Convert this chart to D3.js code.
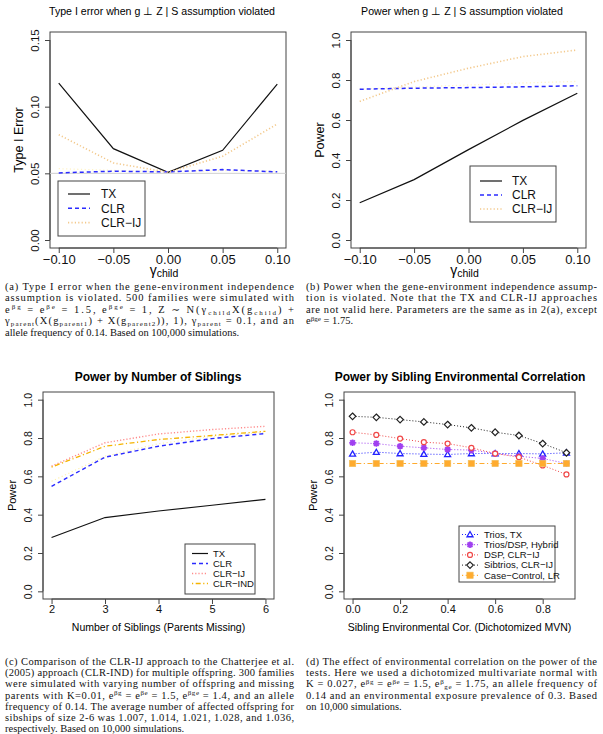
<!DOCTYPE html>
<html><head><meta charset="utf-8">
<script src="https://cdn.jsdelivr.net/npm/d3@7"></script>
<style>
body{margin:0;background:#fff;}
svg text{font-family:"Liberation Sans",Arial,sans-serif;}
.cap{font-family:"Liberation Serif","DejaVu Serif",serif;font-size:10.5px;fill:#111;}
</style></head><body>
<svg id="c" width="603" height="734"></svg>
<script>
// ---------- DATA ----------
const gammaChild = [-0.10, -0.05, 0.00, 0.05, 0.10];
const typeI_TX    = [0.1176, 0.0685, 0.0508, 0.0673, 0.1169];
const typeI_CLR   = [0.0503, 0.0516, 0.0511, 0.0528, 0.0511];
const typeI_CLRIJ = [0.0790, 0.0578, 0.0508, 0.0628, 0.0870];
const typeI_faint = [0.0535, 0.0522, 0.0512, 0.0520, 0.0517];
const typeI_ticks = [0.00, 0.05, 0.10, 0.15];

const power_TX    = [0.186, 0.302, 0.452, 0.598, 0.734];
const power_CLR   = [0.754, 0.759, 0.762, 0.766, 0.771];
const power_CLRIJ = [0.693, 0.792, 0.859, 0.917, 0.950];
const power_faint = [0.755, 0.765, 0.775, 0.785, 0.793];
const gammaTicks = [-0.10, -0.05, 0.00, 0.05, 0.10];
const powerTicks = [0.0, 0.2, 0.4, 0.6, 0.8, 1.0];

const nSiblings = [2, 3, 4, 5, 6];
const sib_TX     = [0.281, 0.385, 0.419, 0.449, 0.480];
const sib_CLR    = [0.548, 0.700, 0.757, 0.797, 0.823];
const sib_CLRIJ  = [0.653, 0.775, 0.821, 0.844, 0.861];
const sib_CLRIND = [0.648, 0.757, 0.792, 0.813, 0.835];
const sib_faint  = [0.574, 0.705, 0.770, 0.808, 0.830];

const envCor = [0.0, 0.1, 0.2, 0.3, 0.4, 0.5, 0.6, 0.7, 0.8, 0.9];
const env_TriosTX   = [0.717, 0.726, 0.719, 0.716, 0.714, 0.719, 0.719, 0.719, 0.717, 0.723];
const env_Hybrid    = [0.775, 0.771, 0.757, 0.749, 0.740, 0.737, 0.719, 0.705, 0.693, 0.667];
const env_DSP       = [0.830, 0.816, 0.797, 0.778, 0.771, 0.749, 0.719, 0.700, 0.657, 0.610];
const env_Sibtrios  = [0.913, 0.908, 0.896, 0.884, 0.870, 0.853, 0.830, 0.813, 0.771, 0.723];
const env_CC        = [0.667, 0.667, 0.667, 0.667, 0.667, 0.667, 0.667, 0.667, 0.667, 0.667];
const envTicks = [0.0, 0.2, 0.4, 0.6, 0.8];

// ---------- DRAWING ----------
const svg = d3.select("#c");
const AX = "#444";

function rScale(lo, hi, r0, r1){ const d=(hi-lo)*0.04; return d3.scaleLinear().domain([lo-d, hi+d]).range([r0,r1]); }

function panel(o){
  const g = svg.append("g");
  const x = rScale(o.xlim[0], o.xlim[1], o.box.l, o.box.r);
  const y = rScale(o.ylim[0], o.ylim[1], o.box.b, o.box.t);
  g.append("text").attr("x", o.titleX).attr("y", o.titleY).attr("text-anchor","middle")
    .style("font-size", o.titleSize+"px").style("font-weight", o.titleBold?"bold":"normal").text(o.title);
  const xa = d3.axisBottom(x).tickValues(o.xticks).tickSize(5).tickPadding(2).tickFormat(o.xfmt);
  const gx = g.append("g").attr("transform",`translate(0,${o.box.b})`).call(xa);
  gx.select(".domain").attr("stroke",AX).attr("d",`M${x(o.xticks[0])},0H${x(o.xticks[o.xticks.length-1])}`);
  gx.selectAll(".tick line").attr("stroke",AX);
  gx.selectAll(".tick text").style("font-size",o.tickSize+"px").attr("fill","#111").attr("dy", o.xdy);
  const ya = d3.axisLeft(y).tickValues(o.yticks).tickSize(5).tickPadding(0).tickFormat(o.yfmt);
  const gy = g.append("g").attr("transform",`translate(${o.box.l},0)`).call(ya);
  gy.select(".domain").attr("stroke",AX).attr("d",`M0,${y(o.yticks[0])}V${y(o.yticks[o.yticks.length-1])}`);
  gy.selectAll(".tick line").attr("stroke",AX);
  gy.selectAll(".tick text").style("font-size",o.ytickSize+"px").attr("fill","#111")
    .attr("x",null).attr("dy",null).attr("text-anchor","middle")
    .attr("transform",`translate(${-o.ylabOff},0) rotate(-90)`);
  g.append("rect").attr("x",o.box.l).attr("y",o.box.t).attr("width",o.box.r-o.box.l).attr("height",o.box.b-o.box.t)
    .attr("fill","none").attr("stroke",AX).attr("stroke-width",1);
  g.append("text").attr("transform",`translate(${o.box.l-o.ytitleOff},${(o.box.t+o.box.b)/2}) rotate(-90)`)
    .attr("text-anchor","middle").style("font-size",o.ytitleSize+"px").text(o.ytitle);
  if(o.xtitle === "gamma"){
    const t = g.append("text").attr("x",(o.box.l+o.box.r)/2-4).attr("y",o.xtitleY).attr("text-anchor","middle").style("font-size","14px");
    t.append("tspan").text("γ");
    t.append("tspan").attr("dy",2).style("font-size","10.5px").text("child");
  } else {
    g.append("text").attr("x",(o.box.l+o.box.r)/2).attr("y",o.xtitleY).attr("text-anchor","middle")
      .style("font-size",o.xtitleSize+"px").text(o.xtitle);
  }
  if(o.hline!==undefined){
    g.append("line").attr("x1",o.box.l).attr("x2",o.box.r).attr("y1",y(o.hline)).attr("y2",y(o.hline))
      .attr("stroke","#cfcfcf").attr("stroke-width",1);
  }
  const line = d3.line().x(d=>x(d[0])).y(d=>y(d[1]));
  o.series.forEach(s=>{
    const pts = o.xs.map((v,i)=>[v, s.values[i]]);
    g.append("path").datum(pts).attr("d",line).attr("fill","none").attr("stroke",s.color)
      .attr("stroke-width",s.width||1.3).attr("stroke-dasharray",s.dash||null).attr("stroke-linecap","butt");
    if(s.symbol){
      pts.forEach(p=> drawSym(g, s.symbol, x(p[0]), y(p[1]), s.color));
    }
  });
  const L = o.legend;
  g.append("rect").attr("x",L.l).attr("y",L.t).attr("width",L.r-L.l).attr("height",L.b-L.t)
    .attr("fill","#fff").attr("stroke",AX).attr("stroke-width",1);
  o.series.filter(s=>s.label).forEach((s,i)=>{
    const yy = L.y0 + i*L.dy;
    g.append("line").attr("x1",L.x1).attr("x2",L.x2).attr("y1",yy).attr("y2",yy)
      .attr("stroke",s.color).attr("stroke-width",s.width||1.3).attr("stroke-dasharray",s.dash||null);
    if(s.symbol) drawSym(g, s.symbol, (L.x1+L.x2)/2, yy, s.color);
    g.append("text").attr("x",L.tx).attr("y",yy).attr("dy","0.35em").style("font-size",L.size+"px").attr("fill","#111").text(s.label);
  });
}

function drawSym(g, sym, cx, cy, col){
  if(sym==="tri"){
    g.append("path").attr("d",d3.symbol(d3.symbolTriangle2,26)()).attr("transform",`translate(${cx},${cy+0.5})`)
      .attr("fill","#fff").attr("stroke",col).attr("stroke-width",1.3);
  } else if(sym==="star"){
    const r=3.3;
    const p = `M${-r},0H${r}M0,${-r}V${r}M${-r*0.72},${-r*0.72}L${r*0.72},${r*0.72}M${-r*0.72},${r*0.72}L${r*0.72},${-r*0.72}`;
    g.append("path").attr("d",p).attr("transform",`translate(${cx},${cy})`).attr("stroke",col).attr("stroke-width",1.8).attr("fill","none");
  } else if(sym==="circle"){
    g.append("circle").attr("cx",cx).attr("cy",cy).attr("r",2.5).attr("fill","#fff").attr("stroke",col).attr("stroke-width",1.2);
  } else if(sym==="diamond"){
    g.append("path").attr("d","M0,-3.3L3.3,0L0,3.3L-3.3,0Z").attr("transform",`translate(${cx},${cy})`)
      .attr("fill","#fff").attr("stroke",col).attr("stroke-width",1.2);
  } else if(sym==="square"){
    g.append("rect").attr("x",cx-3.2).attr("y",cy-3.2).attr("width",6.4).attr("height",6.4)
      .attr("fill",col).attr("stroke","#f0c060").attr("stroke-width",0.6);
  }
}

const f2 = d3.format(".2f"), f1 = d3.format(".1f");
const fm = v => f2(v).replace("-","\u2212");

panel({
  box:{l:50,r:286,t:32,b:248}, xlim:[-0.1,0.1], ylim:[0,0.15], xs:gammaChild,
  xticks:gammaTicks, yticks:typeI_ticks, xfmt:fm, yfmt:f2, xdy:"0.68em",
  tickSize:13, ytickSize:11.5, ylabOff:11, title:"Type I error when g \u22A5 Z | S assumption violated",
  titleX:162, titleY:15, titleSize:10.6, ytitle:"Type I Error", ytitleOff:27, ytitleSize:12.5,
  xtitle:"gamma", xtitleY:275, hline:0.05,
  series:[
    {values:typeI_faint, color:"#fff3c8", dash:"1.2,2.5", width:1.3},
    {label:"TX", values:typeI_TX, color:"#111", width:1.2},
    {label:"CLR", values:typeI_CLR, color:"#2b2bff", dash:"4,3", width:1.5},
    {label:"CLR\u2212IJ", values:typeI_CLRIJ, color:"#f3c98c", dash:"1.2,2.2", width:1.6}
  ],
  legend:{l:58,r:145,t:181,b:236,y0:194,dy:14.3,x1:68,x2:90,tx:101,size:12}
});
panel({
  box:{l:351,r:586,t:32,b:248}, xlim:[-0.1,0.1], ylim:[0,1], xs:gammaChild,
  xticks:gammaTicks, yticks:powerTicks, xfmt:fm, yfmt:f1, xdy:"0.68em",
  tickSize:13, ytickSize:11.5, ylabOff:11, title:"Power when g \u22A5 Z | S assumption violated",
  titleX:462, titleY:15, titleSize:10.6, ytitle:"Power", ytitleOff:27, ytitleSize:12.5,
  xtitle:"gamma", xtitleY:275,
  series:[
    {values:power_faint, color:"#fff3c8", dash:"1.2,2.5", width:1.3},
    {label:"TX", values:power_TX, color:"#111", width:1.2},
    {label:"CLR", values:power_CLR, color:"#2b2bff", dash:"4,3", width:1.5},
    {label:"CLR\u2212IJ", values:power_CLRIJ, color:"#f3c98c", dash:"1.2,2.2", width:1.6}
  ],
  legend:{l:470,r:556,t:166,b:222,y0:181,dy:14,x1:480,x2:502,tx:512,size:12}
});
panel({
  box:{l:43,r:274,t:392,b:599}, xlim:[2,6], ylim:[0,1], xs:nSiblings,
  xticks:nSiblings, yticks:powerTicks, xfmt:d3.format("d"), yfmt:f1, xdy:"0.68em",
  tickSize:11, ytickSize:10.5, ylabOff:11, title:"Power by Number of Siblings",
  titleX:158, titleY:381, titleSize:12, titleBold:true, ytitle:"Power", ytitleOff:27, ytitleSize:11,
  xtitle:"Number of Siblings (Parents Missing)", xtitleY:631, xtitleSize:10.5,
  series:[
    {values:sib_faint, color:"#fff1b0", dash:"1.2,2.5", width:1.2},
    {label:"TX", values:sib_TX, color:"#111", width:1.2},
    {label:"CLR", values:sib_CLR, color:"#2b2bff", dash:"4,3", width:1.4},
    {label:"CLR\u2212IJ", values:sib_CLRIJ, color:"#ff8a8a", dash:"1.2,2", width:1.4},
    {label:"CLR\u2212IND", values:sib_CLRIND, color:"#f5b400", dash:"1.2,2.5,5,2.5", width:1.3}
  ],
  legend:{l:185,r:255,t:544,b:594,y0:553.5,dy:10,x1:192,x2:208,tx:213,size:9.5}
});
panel({
  box:{l:344,r:575,t:392,b:599}, xlim:[0,0.9], ylim:[0,1], xs:envCor,
  xticks:envTicks, yticks:powerTicks, xfmt:f1, yfmt:f1, xdy:"0.68em",
  tickSize:11, ytickSize:10.5, ylabOff:11, title:"Power by Sibling Environmental Correlation",
  titleX:460, titleY:381, titleSize:12, titleBold:true, ytitle:"Power", ytitleOff:27, ytitleSize:11,
  xtitle:"Sibling Environmental Cor. (Dichotomized MVN)", xtitleY:631, xtitleSize:10.5,
  series:[
    {label:"Trios, TX", values:env_TriosTX, color:"#2222ff", dash:"1,2", width:1, symbol:"tri"},
    {label:"Trios/DSP, Hybrid", values:env_Hybrid, color:"#a040f0", dash:"1,2", width:1, symbol:"star"},
    {label:"DSP, CLR\u2212IJ", values:env_DSP, color:"#f04848", dash:"1,2", width:1, symbol:"circle"},
    {label:"Sibtrios, CLR\u2212IJ", values:env_Sibtrios, color:"#222", dash:"1,2", width:1, symbol:"diamond"},
    {label:"Case\u2212Control, LR", values:env_CC, color:"#ffab2e", dash:"1.2,2.5,5,2.5", width:1.2, symbol:"square"}
  ],
  legend:{l:459,r:555,t:526,b:582,y0:534.5,dy:10.2,x1:462,x2:478,tx:484,size:9.5}
});

// ---------- CAPTIONS ----------
const capA = [
  "(a) Type I error when the gene-environment independence",
  "assumption is violated. 500 families were simulated with",
  "e^{βg} = e^{βe} = 1.5, e^{βge} = 1, Z ∼ N(γ_{child}X(g_{child}) +",
  "γ_{parent}(X(g_{parent1}) + X(g_{parent2})), 1), γ_{parent} = 0.1, and an",
  "allele frequency of 0.14. Based on 100,000 simulations."
];
const capB = [
  "(b) Power when the gene-environment independence assump-",
  "tion is violated. Note that the TX and CLR-IJ approaches",
  "are not valid here. Parameters are the same as in 2(a), except",
  "e^{βge} = 1.75."
];
const capC = [
  "(c) Comparison of the CLR-IJ approach to the Chatterjee et al.",
  "(2005) approach (CLR-IND) for multiple offspring. 300 families",
  "were simulated with varying number of offspring and missing",
  "parents with K=0.01, e^{βg} = e^{βe} = 1.5, e^{βge} = 1.4, and an allele",
  "frequency of 0.14. The average number of affected offspring for",
  "sibships of size 2-6 was 1.007, 1.014, 1.021, 1.028, and 1.036,",
  "respectively. Based on 10,000 simulations."
];
const capD = [
  "(d) The effect of environmental correlation on the power of the",
  "tests. Here we used a dichotomized multivariate normal with",
  "K = 0.027, e^{βg} = e^{βe} = 1.5, e^{β}_{ge} = 1.75, an allele frequency of",
  "0.14 and an environmental exposure prevalence of 0.3. Based",
  "on 10,000 simulations."
];

function caption(lines, x0, y0, w, lh){
  lines.forEach((ln,i)=>{
    const t = svg.append("text").attr("class","cap").attr("x",x0).attr("y",y0+i*lh);
    if(i<lines.length-1) t.attr("textLength",w).attr("lengthAdjust","spacing");
    const re = /([\^_])\{([^{}]*)\}/g;
    let last=0, m, shift=0;
    const add=(txt,dy,size)=>{ const s=t.append("tspan").text(txt); if(dy) s.attr("dy",dy); if(size) s.style("font-size",size+"px"); };
    while((m=re.exec(ln))!==null){
      if(m.index>last){ add(ln.slice(last,m.index), shift?-shift:0); shift=0; }
      const d = m[1]==="^" ? -3.5 : 2;
      add(m[2], d - shift, 7);
      shift = d;
      last = re.lastIndex;
    }
    if(last<ln.length){ add(ln.slice(last), shift?-shift:0); shift=0; }
  });
}
caption(capA, 5, 290, 289, 11.4);
caption(capB, 306, 290, 291, 11.4);
caption(capC, 5, 665, 289, 11.2);
caption(capD, 306, 665, 291, 11.2);
</script>
</body></html>
